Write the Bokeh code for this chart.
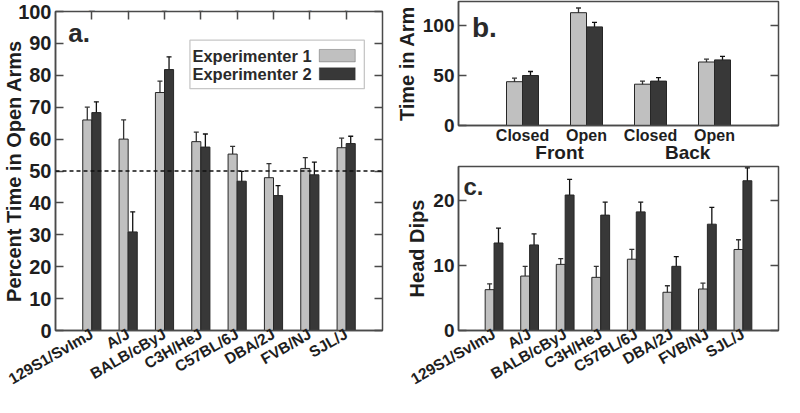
import math
from bokeh.plotting import figure
from bokeh.models import (FactorRange, Range1d, ColumnDataSource, Whisker, TeeHead,
                          Span, Label, BoxAnnotation, LinearAxis, CategoricalAxis, FixedTicker)
from bokeh.transform import dodge
from bokeh.layouts import row, column
from bokeh.embed import file_html
from bokeh.resources import INLINE

# ---------------- data ----------------
strains = ["129S1/SvImJ", "A/J", "BALB/cByJ", "C3H/HeJ", "C57BL/6J", "DBA/2J", "FVB/NJ", "SJL/J"]
series_names = ["Experimenter 1", "Experimenter 2"]

open_exp1 = [66.0, 60.0, 74.6, 59.2, 55.3, 47.9, 50.8, 57.3]
open_exp1_err = [4.0, 6.0, 3.6, 3.0, 2.4, 4.4, 3.4, 3.0]
open_exp2 = [68.3, 30.9, 81.8, 57.5, 46.8, 42.3, 48.8, 58.6]
open_exp2_err = [3.4, 6.3, 4.0, 4.1, 3.1, 3.1, 4.0, 2.3]

arm_zone = ["Front", "Front", "Back", "Back"]
arm_type = ["Closed", "Open", "Closed", "Open"]
arm_exp1 = [43.8, 112.8, 41.3, 63.5]
arm_exp1_err = [3.5, 4.7, 3.1, 2.8]
arm_exp2 = [50.0, 98.6, 44.4, 65.6]
arm_exp2_err = [4.0, 4.5, 3.5, 3.5]

dips_exp1 = [6.3, 8.4, 10.2, 8.2, 11.0, 5.9, 6.4, 12.5]
dips_exp1_err = [0.9, 1.5, 0.9, 1.7, 1.5, 1.0, 0.9, 1.5]
dips_exp2 = [13.5, 13.2, 20.9, 17.8, 18.3, 9.9, 16.4, 23.1]
dips_exp2_err = [2.3, 1.7, 2.4, 2.0, 1.5, 1.5, 2.6, 2.0]

a_yticks = [0, 10, 20, 30, 40, 50, 60, 70, 80, 90, 100]
b_yticks = [0, 50, 100]
c_yticks = [0, 10, 20]

# ---------------- style ----------------
FONT = "Liberation Sans"
GREY = "#c0c0c0"
DARK = "#383838"
EDGE = "#262626"
FRAME = "#4a4a4a"
TXT = "#1e1e1e"
BW = 0.25
GROUP_SHIFT = 0.08


def src_for(xs, e1, e1err, e2, e2err):
    return ColumnDataSource(dict(
        x=xs, e1=e1, e2=e2,
        e1_hi=[v + e for v, e in zip(e1, e1err)], e1_lo=[v - e for v, e in zip(e1, e1err)],
        e2_hi=[v + e for v, e in zip(e2, e2err)], e2_lo=[v - e for v, e in zip(e2, e2err)],
    ))


def style(p, yticks, tick_font, label_font):
    p.grid.visible = False
    p.outline_line_color = FRAME
    p.outline_line_width = 1.5
    for ax in p.yaxis:
        ax.ticker = FixedTicker(ticks=yticks)
        ax.major_tick_in = 8
        ax.major_tick_out = 0
        ax.minor_tick_line_color = None
        ax.major_tick_line_color = FRAME
        ax.major_tick_line_width = 1.5
        ax.axis_line_color = FRAME
        ax.axis_line_width = 1.5
        ax.major_label_text_font = FONT
        ax.major_label_text_font_style = "bold"
        ax.major_label_text_font_size = tick_font
        ax.major_label_text_color = TXT
        ax.major_label_standoff = 4
        ax.axis_label_text_font = FONT
        ax.axis_label_text_font_style = "bold"
        ax.axis_label_text_font_size = label_font
        ax.axis_label_text_color = TXT
    for ax in p.xaxis:
        ax.major_tick_in = 0
        ax.major_tick_out = 0
        ax.minor_tick_line_color = None
        ax.axis_line_color = FRAME
        ax.axis_line_width = 1.5
        ax.major_label_text_font = FONT
        ax.major_label_text_font_style = "bold"
        ax.major_label_text_color = TXT
    # inward ticks on the right side
    p.add_layout(LinearAxis(ticker=FixedTicker(ticks=yticks),
                            major_label_overrides={t: "" for t in yticks},
                            major_label_text_font_size="1px",
                            major_label_standoff=0, major_tick_in=8, major_tick_out=0,
                            major_tick_line_color=FRAME, major_tick_line_width=1.5,
                            minor_tick_line_color=None, axis_line_color=None), "right")


def bars(p, src):
    p.vbar(x=dodge("x", -BW / 2, range=p.x_range), top="e1", width=BW, source=src,
           fill_color=GREY, line_color=EDGE, line_width=1)
    p.vbar(x=dodge("x", BW / 2, range=p.x_range), top="e2", width=BW, source=src,
           fill_color=DARK, line_color=EDGE, line_width=1)
    for off, hi, lo, col in [(-BW / 2, "e1_hi", "e1_lo", "#333333"), (BW / 2, "e2_hi", "e2_lo", "#111111")]:
        w = Whisker(base=dodge("x", off, range=p.x_range), upper=hi, lower=lo, source=src,
                    line_color=col, line_width=1.3,
                    upper_head=TeeHead(size=5, line_color=col, line_width=1.3),
                    lower_head=TeeHead(size=5, line_color=col, line_width=1.3))
        p.add_layout(w)


def panel_label(p, text, x, y, size):
    p.add_layout(Label(x=x, y=y, text=text, text_font=FONT, text_font_style="bold",
                       text_font_size=size, text_color="#2a2a2a", text_baseline="alphabetic"))


# ---------------- panel a ----------------
pa = figure(x_range=FactorRange(*strains, range_padding=0.5, range_padding_units="absolute"),
            y_range=Range1d(0, 100), width=392, height=397, output_backend="svg",
            toolbar_location=None, min_border_left=0, min_border_right=10,
            min_border_top=11, min_border_bottom=0)
style(pa, a_yticks, "20px", "20px")
pa.yaxis[0].axis_label = "Percent Time in Open Arms"
pa.yaxis[0].axis_label_standoff = -10
pa.xaxis.major_label_orientation = math.pi / 6
pa.xaxis.major_label_text_font_size = "15.5px"
pa.xaxis.major_label_standoff = 2
pa.add_layout(CategoricalAxis(major_label_overrides={s: "" for s in strains},
                              major_label_text_font_size="1px", major_label_standoff=0,
                              major_tick_in=8, major_tick_out=0, major_tick_line_color=FRAME,
                              major_tick_line_width=1.5, axis_line_color=None), "above")
pa.add_layout(Span(location=50, dimension="width", line_color="#111111", line_width=1.3,
                   line_dash="4 3"))
bars(pa, src_for(strains, open_exp1, open_exp1_err, open_exp2, open_exp2_err))
panel_label(pa, "a.", -0.15, 93.4, "26px")
# legend
pa.add_layout(BoxAnnotation(left=3.2, right=8.0, top=91.0, bottom=75.8, fill_color="white",
                            fill_alpha=1, line_color="#444444", line_width=1.3))
pa.add_layout(BoxAnnotation(left=6.76, right=7.75, top=88.1, bottom=84.2, fill_color=GREY,
                            fill_alpha=1, line_color=EDGE, line_width=1))
pa.add_layout(BoxAnnotation(left=6.76, right=7.75, top=82.4, bottom=78.5, fill_color=DARK,
                            fill_alpha=1, line_color=EDGE, line_width=1))
for name, yy in zip(series_names, [86.1, 80.4]):
    pa.add_layout(Label(x=6.55, y=yy, text=name, text_font=FONT, text_font_style="bold",
                        text_font_size="16.5px", text_color="#2a2a2a", text_align="right",
                        text_baseline="middle"))

# ---------------- panel b ----------------
b_pos = [i + 1 for i in range(len(arm_type))]
b_groups = []
for z in arm_zone:
    if z not in b_groups:
        b_groups.append(z)
b_group_pos = [sum(p for p, z in zip(b_pos, arm_zone) if z == g) / arm_zone.count(g) + GROUP_SHIFT
               for g in b_groups]

pb = figure(x_range=Range1d(0, len(arm_type) + 1), y_range=Range1d(0, 124),
            width=392, height=165, output_backend="svg",
            toolbar_location=None, min_border_left=0, min_border_right=2,
            min_border_top=1, min_border_bottom=0)
style(pb, b_yticks, "19px", "20px")
pb.yaxis[0].axis_label = "Time in Arm"
pb.yaxis[0].axis_label_standoff = 2
pb.xaxis.ticker = FixedTicker(ticks=b_pos)
pb.xaxis.major_label_overrides = dict(zip(b_pos, arm_type))
pb.xaxis.major_label_text_font_size = "16px"
pb.xaxis.major_label_standoff = 1
pb.add_layout(LinearAxis(ticker=FixedTicker(ticks=b_group_pos),
                         major_label_overrides=dict(zip(b_group_pos, b_groups)),
                         major_label_text_font=FONT, major_label_text_font_style="bold",
                         major_label_text_font_size="19px", major_label_text_color=TXT,
                         major_label_standoff=-5, major_tick_in=0, major_tick_out=0,
                         minor_tick_line_color=None, axis_line_color=None), "below")
bars(pb, src_for(b_pos, arm_exp1, arm_exp1_err, arm_exp2, arm_exp2_err))
panel_label(pb, "b.", 0.21, 97.9, "28px")

# ---------------- panel c ----------------
pc = figure(x_range=FactorRange(*strains, range_padding=0.5, range_padding_units="absolute"),
            y_range=Range1d(0, 25.3), width=392, height=232, output_backend="svg",
            toolbar_location=None, min_border_left=0, min_border_right=6,
            min_border_top=1, min_border_bottom=0)
style(pc, c_yticks, "19px", "20px")
pc.yaxis[0].axis_label = "Head Dips"
pc.yaxis[0].axis_label_standoff = 2
pc.xaxis.major_label_orientation = math.pi / 6
pc.xaxis.major_label_text_font_size = "15.5px"
pc.xaxis.major_label_standoff = 2
bars(pc, src_for(strains, dips_exp1, dips_exp1_err, dips_exp2, dips_exp2_err))
panel_label(pc, "c.", -0.36, 22.2, "24px")

layout = row(pa, column(pb, pc))
open("out.html", "w").write(file_html(layout, INLINE))
